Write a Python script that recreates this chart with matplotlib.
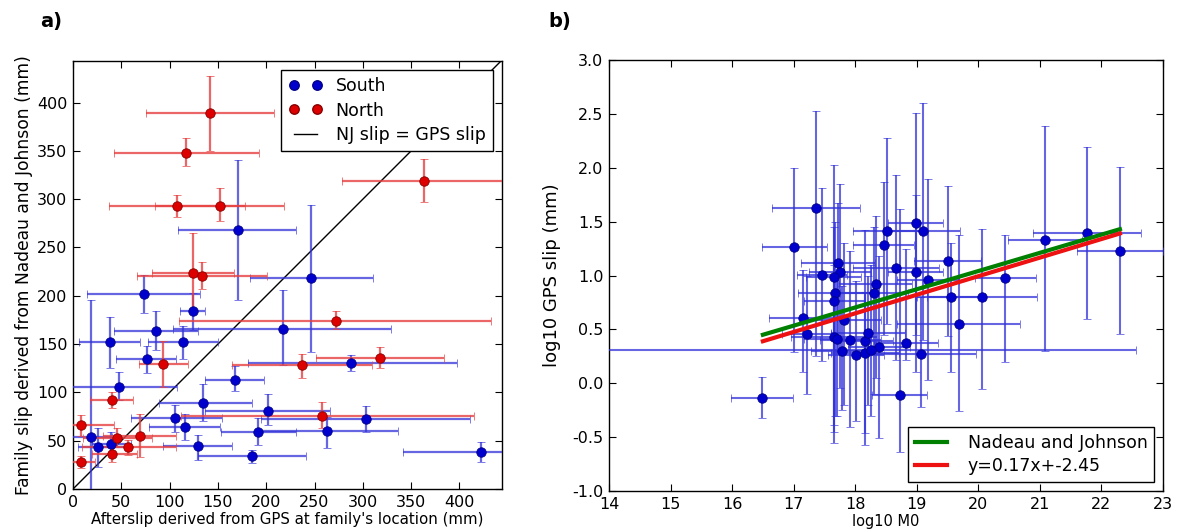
import matplotlib
matplotlib.use("Agg")
import matplotlib.pyplot as plt
from matplotlib.lines import Line2D
import numpy as np

# ---------------- Panel a data ----------------
# South (blue): x, y, x-range (lo, hi), y-range (lo, hi)
south_x  = [171, 246, 217, 73, 124, 86, 38, 114, 77, 48, 168, 135, 202, 303, 106, 116, 191, 263, 129, 185, 422, 288, 19, 26, 39]
south_y  = [268, 218, 166, 202, 184, 164, 152, 152, 135, 106, 113, 89, 81, 72, 73, 64, 59, 60, 44, 34, 38, 130, 54, 43, 47]
south_xlo = [109, 183, 103, 15, 111, 42, 6, 78, 45, -12, 137, 89, 137, 195, 60, 79, 153, 190, 93, 129, 342, 181, -2, 5, 20]
south_xhi = [231, 310, 329, 131, 137, 129, 69, 150, 107, 108, 198, 185, 266, 411, 154, 152, 231, 336, 165, 241, 502, 397, 40, 60, 60]
south_ylo = [196, 142, 128, 182, 165, 144, 125, 135, 120, 92, 101, 70, 66, 59, 59, 51, 46, 42, 30, 27, 28, 122, -88, 23, 35]
south_yhi = [341, 294, 206, 222, 203, 184, 178, 169, 148, 121, 127, 109, 98, 86, 87, 78, 73, 75, 56, 40, 49, 139, 196, 63, 59]

# North (red)
north_x  = [142, 117, 108, 152, 363, 124, 134, 272, 318, 237, 93, 258, 40, 8, 8, 46, 69, 57, 40]
north_y  = [389, 348, 293, 293, 319, 224, 220, 174, 136, 128, 129, 76, 92, 66, 28, 53, 55, 43, 36]
north_xlo = [76, 42, 37, 85, 278, 82, 66, 110, 251, 165, 68, 112, 18, -25, -7, 10, 31, 9, 20]
north_xhi = [208, 193, 178, 218, 448, 167, 201, 433, 384, 309, 119, 415, 62, 42, 23, 82, 107, 107, 66]
north_ylo = [350, 334, 282, 277, 297, 183, 207, 166, 125, 115, 106, 63, 84, 55, 22, 43, 33, 35, 28]
north_yhi = [427, 363, 304, 312, 342, 265, 235, 184, 147, 140, 153, 90, 100, 77, 34, 63, 78, 51, 44]

one_to_one = [0, 500]

# ---------------- Panel b data ----------------
b_x    = [17.36, 17.01, 18.51, 18.46, 18.98, 19.10, 17.72, 17.75, 17.46, 17.65, 18.66, 18.98, 19.18, 18.33,
          18.31, 17.67, 17.66, 17.15, 17.82, 17.21, 17.65, 17.71, 17.92, 18.16, 18.21, 18.39, 18.82, 17.78,
          18.01, 18.16, 18.26, 19.07, 16.49, 18.72, 19.50, 20.44, 19.56, 20.06, 19.68, 21.09, 21.77, 22.30]
b_y    = [1.625, 1.263, 1.417, 1.285, 1.486, 1.417, 1.12, 1.035, 1.006, 0.99, 1.07, 1.03, 0.958, 0.923,
          0.838, 0.837, 0.76, 0.61, 0.589, 0.459, 0.425, 0.41, 0.403, 0.39, 0.462, 0.333, 0.376, 0.303,
          0.264, 0.28, 0.305, 0.275, -0.137, -0.11, 1.136, 0.976, 0.80, 0.80, 0.552, 1.331, 1.399, 1.232]
b_xerr = [0.72, 0.53, 0.55, 0.50, 0.45, 0.60, 0.60, 0.50, 0.40, 0.45, 0.70, 0.45, 0.50, 0.60,
          0.55, 0.60, 0.50, 0.55, 0.60, 0.40, 0.70, 0.55, 0.50, 0.45, 0.60, 0.50, 0.52, 0.50,
          0.45, 0.55, 4.30, 0.90, 0.50, 0.44, 0.55, 0.49, 0.55, 0.90, 1.00, 0.60, 0.88, 0.70]
b_ytop = [2.53, 2.00, 2.28, 1.87, 2.51, 2.60, 1.67, 1.85, 1.81, 2.03, 1.93, 1.75, 1.90, 1.55,
          1.45, 1.50, 1.45, 1.05, 1.30, 1.00, 1.10, 1.00, 1.23, 1.42, 1.00, 1.18, 1.25, 0.90,
          0.95, 0.85, 1.10, 0.80, 0.054, 1.62, 1.83, 1.38, 1.30, 1.43, 1.38, 2.39, 2.19, 2.01]
b_ybot = [0.25, 0.29, 0.55, 0.45, 0.45, 0.40, 0.30, -0.04, 0.21, -0.39, 0.22, 0.10, 0.03, 0.05,
          -0.10, -0.30, -0.45, 0.10, -0.20, -0.10, -0.55, -0.30, -0.41, -0.46, -0.20, -0.51, 0.22, -0.25,
          -0.35, -0.57, -0.30, -0.22, -0.32, -0.64, 0.44, 0.20, 0.10, -0.05, -0.26, 0.30, 0.60, 0.46]

nj_x  = [16.5, 22.3]
nj_y  = [0.45, 1.43]
fit_x = [16.5, 22.3]
fit_y = [0.39, 1.39]

# ---------------- Figure ----------------
fig = plt.figure(figsize=(11.77, 5.31), dpi=100)
W, H = 1177.0, 531.0
ax1 = fig.add_axes([73 / W, 1 - 489 / H, (502 - 73) / W, (489 - 61) / H])
ax2 = fig.add_axes([609 / W, 1 - 491 / H, (1163 - 609) / W, (491 - 60) / H])

BLUE = "#0000cc"
BLUE_E = (0.2, 0.2, 0.85, 0.75)
RED = "#dd0000"
RED_E = (0.9, 0.25, 0.25, 0.8)


def asym(v, lo, hi):
    v = np.asarray(v, float)
    return [v - np.asarray(lo, float), np.asarray(hi, float) - v]


ax1.errorbar(south_x, south_y, xerr=asym(south_x, south_xlo, south_xhi),
             yerr=asym(south_y, south_ylo, south_yhi), fmt="o", color=BLUE, ecolor=BLUE_E,
             ms=6.8, mec="#000088", mew=0.6, elinewidth=1.6, capsize=3, capthick=1.2, zorder=3)
ax1.errorbar(north_x, north_y, xerr=asym(north_x, north_xlo, north_xhi),
             yerr=asym(north_y, north_ylo, north_yhi), fmt="o", color=RED, ecolor=RED_E,
             ms=6.8, mec="#880000", mew=0.6, elinewidth=1.6, capsize=3, capthick=1.2, zorder=3)
ax1.plot(one_to_one, one_to_one, color="black", lw=1.0, zorder=2)
ax1.set_xlim(0, 444)
ax1.set_ylim(0, 443)
ax1.set_xticks(np.arange(0, 401, 50))
ax1.set_yticks(np.arange(0, 401, 50))
ax1.set_xlabel("Afterslip derived from GPS at family's location (mm)", fontsize=10.8, labelpad=2)
ax1.set_ylabel("Family slip derived from Nadeau and Johnson (mm)", fontsize=12.3, labelpad=3)

h_south = Line2D([], [], ls="none", marker="o", color=BLUE, mec="#000088", ms=6.8)
h_north = Line2D([], [], ls="none", marker="o", color=RED, mec="#880000", ms=6.8)
h_line = Line2D([], [], color="black", lw=1.0)
leg1 = ax1.legend([h_south, h_north, h_line], ["South", "North", "NJ slip = GPS slip"],
                  loc="upper right", numpoints=2, fontsize=12.5, fancybox=False,
                  edgecolor="black", framealpha=1, handlelength=1.9, labelspacing=0.35,
                  borderpad=0.45, handletextpad=0.8)
leg1.get_frame().set_linewidth(1.0)

ax2.errorbar(b_x, b_y, xerr=b_xerr, yerr=asym(b_y, b_ybot, b_ytop), fmt="o", color=BLUE,
             ecolor=BLUE_E, ms=6.8, mec="#000088", mew=0.6, elinewidth=1.5, capsize=3,
             capthick=1.2, zorder=3)
ax2.plot(nj_x, nj_y, color="#008000", lw=3, label="Nadeau and Johnson", zorder=4)
ax2.plot(fit_x, fit_y, color="#ee1111", lw=3, label="y=0.17x+-2.45", zorder=4)
ax2.set_xlim(14, 23)
ax2.set_ylim(-1.0, 3.0)
ax2.set_xticks(np.arange(14, 24, 1))
ax2.set_yticks(np.arange(-1.0, 3.01, 0.5))
ax2.set_yticklabels([f"{v:.1f}" for v in np.arange(-1.0, 3.01, 0.5)])
ax2.set_xlabel("log10 M0", fontsize=10.5, labelpad=2)
ax2.set_ylabel("log10 GPS slip (mm)", fontsize=13, labelpad=8)
leg2 = ax2.legend(loc="lower right", fontsize=12.5, fancybox=False, edgecolor="black",
                  framealpha=1, handlelength=1.8, labelspacing=0.3, borderpad=0.4,
                  handletextpad=1.2)
leg2.get_frame().set_linewidth(1.0)

for ax in (ax1, ax2):
    ax.tick_params(direction="in", top=True, right=True, length=5, labelsize=11.5, pad=4)
    for s in ax.spines.values():
        s.set_linewidth(1.0)

fig.text(40 / W, 1 - 22 / H, "a)", fontsize=14, fontweight="bold", ha="left", va="center")
fig.text(548 / W, 1 - 22 / H, "b)", fontsize=14, fontweight="bold", ha="left", va="center")

fig.savefig("out.png", dpi=100)
